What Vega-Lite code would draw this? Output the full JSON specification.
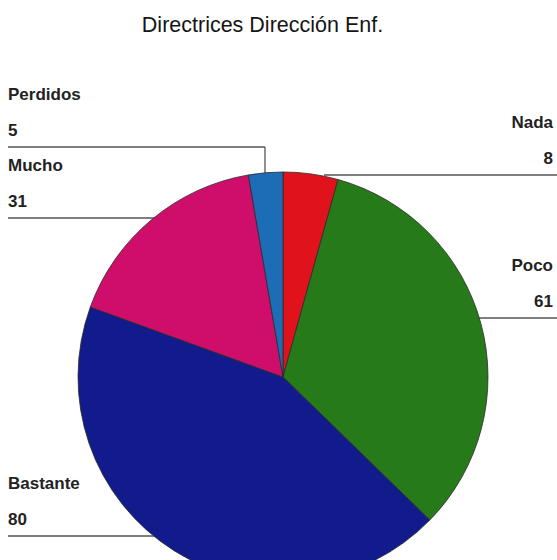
{
  "$schema": "https://vega.github.io/schema/vega-lite/v6.json",
  "width": 557,
  "height": 515,
  "autosize": {"type": "none"},
  "padding": {"top": 45, "left": 0, "right": 0, "bottom": 0},
  "background": "white",
  "view": {"stroke": null},
  "title": {
    "text": "Directrices Dirección Enf.",
    "font": "Liberation Sans",
    "fontSize": 21.5,
    "fontWeight": "normal",
    "color": "#151515",
    "baseline": "alphabetic",
    "offset": -8,
    "dx": -16,
    "anchor": "middle"
  },
  "datasets": {
    "respuestas": [
      {"Respuesta": "Nada", "n": 8, "orden": 1},
      {"Respuesta": "Poco", "n": 61, "orden": 2},
      {"Respuesta": "Bastante", "n": 80, "orden": 3},
      {"Respuesta": "Mucho", "n": 31, "orden": 4},
      {"Respuesta": "Perdidos", "n": 5, "orden": 5}
    ],
    "etiquetas": [
      {"Respuesta": "Nada", "lado": "der", "lx": 1.3171, "ly": 0.9854},
      {"Respuesta": "Poco", "lado": "der", "lx": 1.3171, "ly": 0.2878},
      {"Respuesta": "Bastante", "lado": "izq", "lx": -1.3415, "ly": -0.7756},
      {"Respuesta": "Mucho", "lado": "izq", "lx": -1.3415, "ly": 0.7756},
      {"Respuesta": "Perdidos", "lado": "izq", "lx": -1.3415, "ly": 1.122}
    ],
    "lineas": [
      {"x1": 0.2, "x2": 1.3366, "y1": 0.9854, "y2": 0.9854},
      {"x1": 0.9, "x2": 1.3366, "y1": 0.2878, "y2": 0.2878},
      {"x1": -1.3415, "x2": -0.3, "y1": -0.7756, "y2": -0.7756},
      {"x1": -1.3415, "x2": -0.5, "y1": 0.7756, "y2": 0.7756},
      {"x1": -1.3415, "x2": -0.0878, "y1": 1.122, "y2": 1.122},
      {"x1": -0.0878, "x2": -0.0878, "y1": 1.122, "y2": 0.99}
    ]
  },
  "layer": [
    {
      "data": {"name": "lineas"},
      "mark": {"type": "rule", "color": "#555555", "strokeWidth": 1.3},
      "encoding": {
        "x": {"field": "x1", "type": "quantitative", "scale": {"domain": [-1.3805, 1.3366], "nice": false, "zero": false}, "axis": null},
        "x2": {"field": "x2"},
        "y": {"field": "y1", "type": "quantitative", "scale": {"domain": [-0.8927, 1.6195], "nice": false, "zero": false}, "axis": null},
        "y2": {"field": "y2"}
      }
    },
    {
      "data": {"name": "respuestas"},
      "mark": {"type": "arc", "outerRadius": 205, "stroke": "#2b2b2b", "strokeWidth": 0.8},
      "encoding": {
        "x": {"datum": 0, "type": "quantitative", "scale": {"domain": [-1.3805, 1.3366], "nice": false, "zero": false}, "axis": null},
        "y": {"datum": 0, "type": "quantitative", "scale": {"domain": [-0.8927, 1.6195], "nice": false, "zero": false}, "axis": null},
        "theta": {"field": "n", "type": "quantitative", "stack": true},
        "order": {"field": "orden", "type": "quantitative"},
        "color": {
          "field": "Respuesta",
          "type": "nominal",
          "scale": {
            "domain": ["Nada", "Poco", "Bastante", "Mucho", "Perdidos"],
            "range": ["#e0121c", "#267a1a", "#121b8c", "#cf0e6b", "#1d6cb6"]
          },
          "legend": null
        }
      }
    },
    {
      "data": {"name": "respuestas"},
      "transform": [
        {"lookup": "Respuesta", "from": {"data": {"name": "etiquetas"}, "key": "Respuesta", "fields": ["lado", "lx", "ly"]}},
        {"filter": "datum.lado === 'izq'"}
      ],
      "mark": {"type": "text", "align": "left", "baseline": "alphabetic", "dy": -47, "font": "Liberation Sans", "fontSize": 17, "fontWeight": "bold", "color": "#222222"},
      "encoding": {
        "x": {"field": "lx", "type": "quantitative", "scale": {"domain": [-1.3805, 1.3366], "nice": false, "zero": false}, "axis": null},
        "y": {"field": "ly", "type": "quantitative", "scale": {"domain": [-0.8927, 1.6195], "nice": false, "zero": false}, "axis": null},
        "text": {"field": "Respuesta", "type": "nominal"}
      }
    },
    {
      "data": {"name": "respuestas"},
      "transform": [
        {"lookup": "Respuesta", "from": {"data": {"name": "etiquetas"}, "key": "Respuesta", "fields": ["lado", "lx", "ly"]}},
        {"filter": "datum.lado === 'izq'"}
      ],
      "mark": {"type": "text", "align": "left", "baseline": "alphabetic", "dy": -11, "font": "Liberation Sans", "fontSize": 17, "fontWeight": "bold", "color": "#222222"},
      "encoding": {
        "x": {"field": "lx", "type": "quantitative", "scale": {"domain": [-1.3805, 1.3366], "nice": false, "zero": false}, "axis": null},
        "y": {"field": "ly", "type": "quantitative", "scale": {"domain": [-0.8927, 1.6195], "nice": false, "zero": false}, "axis": null},
        "text": {"field": "n", "type": "quantitative"}
      }
    },
    {
      "data": {"name": "respuestas"},
      "transform": [
        {"lookup": "Respuesta", "from": {"data": {"name": "etiquetas"}, "key": "Respuesta", "fields": ["lado", "lx", "ly"]}},
        {"filter": "datum.lado === 'der'"}
      ],
      "mark": {"type": "text", "align": "right", "baseline": "alphabetic", "dy": -47, "font": "Liberation Sans", "fontSize": 17, "fontWeight": "bold", "color": "#222222"},
      "encoding": {
        "x": {"field": "lx", "type": "quantitative", "scale": {"domain": [-1.3805, 1.3366], "nice": false, "zero": false}, "axis": null},
        "y": {"field": "ly", "type": "quantitative", "scale": {"domain": [-0.8927, 1.6195], "nice": false, "zero": false}, "axis": null},
        "text": {"field": "Respuesta", "type": "nominal"}
      }
    },
    {
      "data": {"name": "respuestas"},
      "transform": [
        {"lookup": "Respuesta", "from": {"data": {"name": "etiquetas"}, "key": "Respuesta", "fields": ["lado", "lx", "ly"]}},
        {"filter": "datum.lado === 'der'"}
      ],
      "mark": {"type": "text", "align": "right", "baseline": "alphabetic", "dy": -11, "font": "Liberation Sans", "fontSize": 17, "fontWeight": "bold", "color": "#222222"},
      "encoding": {
        "x": {"field": "lx", "type": "quantitative", "scale": {"domain": [-1.3805, 1.3366], "nice": false, "zero": false}, "axis": null},
        "y": {"field": "ly", "type": "quantitative", "scale": {"domain": [-0.8927, 1.6195], "nice": false, "zero": false}, "axis": null},
        "text": {"field": "n", "type": "quantitative"}
      }
    }
  ]
}
